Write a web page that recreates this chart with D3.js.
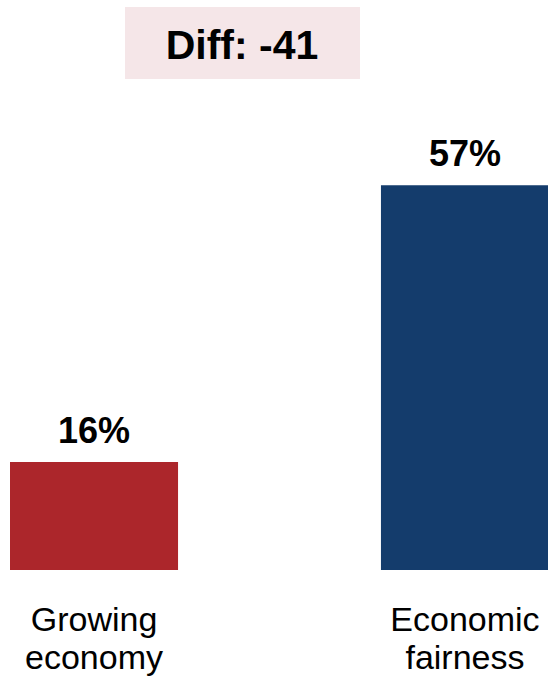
<!DOCTYPE html>
<html>
<head>
<meta charset="utf-8">
<script src="https://cdn.jsdelivr.net/npm/d3@7"></script>
<style>
  html, body { margin: 0; padding: 0; background: #fff; }
  svg { display: block; font-family: Arial, "Liberation Sans", sans-serif; }
</style>
</head>
<body>
<svg id="chart" width="548" height="676"></svg>
<script>
// Share choosing each priority (%)
const categories = [["Growing", "economy"], ["Economic", "fairness"]];
const values = [16, 57];
const barColors = ["#AC262B", "#143C6C"];
const diffLabel = "Diff: -41";

const svg = d3.select("#chart");

const x = d3.scaleBand()
  .domain(d3.range(values.length))
  .range([10, 549])
  .paddingInner(0.547)
  .paddingOuter(0);

const y = d3.scaleLinear()
  .domain([0, 60])
  .range([570, 165]);

// Difference callout
svg.append("rect")
  .attr("x", 125).attr("y", 7)
  .attr("width", 235).attr("height", 72)
  .attr("fill", "#F5E6E8");
svg.append("text")
  .attr("x", 242).attr("y", 59)
  .attr("text-anchor", "middle")
  .attr("font-size", 41)
  .attr("font-weight", "bold")
  .attr("fill", "#000")
  .text(diffLabel);

// Bars
svg.selectAll("rect.bar")
  .data(values)
  .join("rect")
  .attr("class", "bar")
  .attr("x", (d, i) => x(i))
  .attr("y", d => y(d))
  .attr("width", x.bandwidth())
  .attr("height", d => y(0) - y(d))
  .attr("fill", (d, i) => barColors[i]);

// Value labels
svg.selectAll("text.value")
  .data(values)
  .join("text")
  .attr("class", "value")
  .attr("x", (d, i) => x(i) + x.bandwidth() / 2)
  .attr("y", d => y(d) - 19)
  .attr("text-anchor", "middle")
  .attr("font-size", 36)
  .attr("font-weight", "bold")
  .attr("fill", "#000")
  .text(d => d + "%");

// Category labels (two lines each)
const cat = svg.selectAll("text.cat")
  .data(categories)
  .join("text")
  .attr("class", "cat")
  .attr("text-anchor", "middle")
  .attr("font-size", 34)
  .attr("fill", "#000");
cat.selectAll("tspan")
  .data((d, i) => d.map((line, j) => ({ line, i, j })))
  .join("tspan")
  .attr("x", d => x(d.i) + x.bandwidth() / 2)
  .attr("y", d => 631 + d.j * 38)
  .text(d => d.line);
</script>
</body>
</html>
